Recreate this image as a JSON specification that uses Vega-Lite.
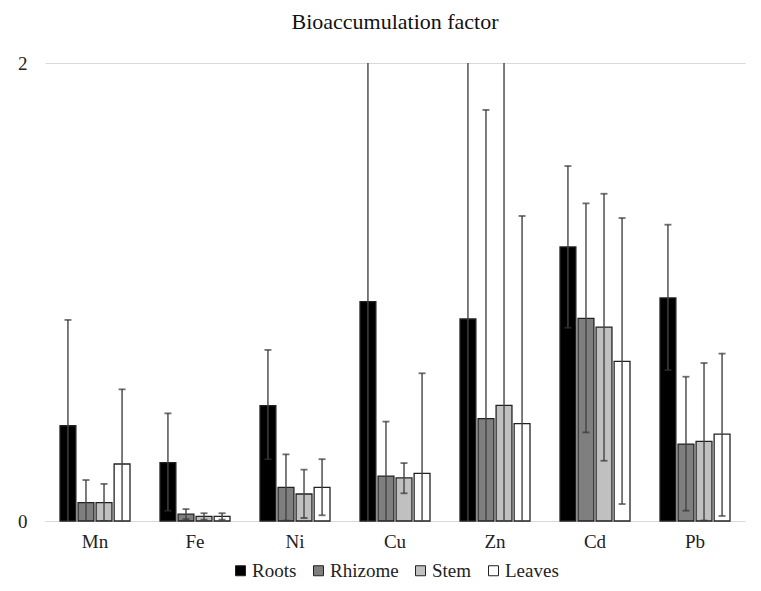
{
  "$schema": "https://vega.github.io/schema/vega-lite/v6.json",
  "autosize": {"type": "none"},
  "width": 700,
  "height": 458,
  "padding": {"left": 45, "top": 63, "right": 16, "bottom": 70},
  "background": "white",
  "title": {"text": "Bioaccumulation factor", "font": "Liberation Serif, Times New Roman, serif", "fontSize": 22, "fontWeight": "normal", "color": "#111111", "anchor": "middle", "frame": "group", "offset": 20},
  "data": {"values": [
    {"metal": "Mn", "organ": "Roots", "v": 0.416, "lo": -0.04, "hi": 0.878},
    {"metal": "Mn", "organ": "Rhizome", "v": 0.08, "lo": -0.02, "hi": 0.179},
    {"metal": "Mn", "organ": "Stem", "v": 0.08, "lo": 0.0, "hi": 0.162},
    {"metal": "Mn", "organ": "Leaves", "v": 0.249, "lo": -0.08, "hi": 0.575},
    {"metal": "Fe", "organ": "Roots", "v": 0.255, "lo": 0.045, "hi": 0.47},
    {"metal": "Fe", "organ": "Rhizome", "v": 0.03, "lo": 0.008, "hi": 0.052},
    {"metal": "Fe", "organ": "Stem", "v": 0.02, "lo": 0.006, "hi": 0.034},
    {"metal": "Fe", "organ": "Leaves", "v": 0.02, "lo": 0.006, "hi": 0.034},
    {"metal": "Ni", "organ": "Roots", "v": 0.504, "lo": 0.27, "hi": 0.747},
    {"metal": "Ni", "organ": "Rhizome", "v": 0.147, "lo": 0.002, "hi": 0.291},
    {"metal": "Ni", "organ": "Stem", "v": 0.118, "lo": 0.013, "hi": 0.224},
    {"metal": "Ni", "organ": "Leaves", "v": 0.147, "lo": 0.025, "hi": 0.27},
    {"metal": "Cu", "organ": "Roots", "v": 0.958, "lo": -0.3, "hi": 2.2},
    {"metal": "Cu", "organ": "Rhizome", "v": 0.196, "lo": -0.04, "hi": 0.434},
    {"metal": "Cu", "organ": "Stem", "v": 0.188, "lo": 0.121, "hi": 0.253},
    {"metal": "Cu", "organ": "Leaves", "v": 0.208, "lo": -0.23, "hi": 0.645},
    {"metal": "Zn", "organ": "Roots", "v": 0.882, "lo": -0.4, "hi": 2.2},
    {"metal": "Zn", "organ": "Rhizome", "v": 0.447, "lo": -0.9, "hi": 1.795},
    {"metal": "Zn", "organ": "Stem", "v": 0.505, "lo": -1.1, "hi": 2.2},
    {"metal": "Zn", "organ": "Leaves", "v": 0.425, "lo": -0.48, "hi": 1.332},
    {"metal": "Cd", "organ": "Roots", "v": 1.197, "lo": 0.844, "hi": 1.55},
    {"metal": "Cd", "organ": "Rhizome", "v": 0.885, "lo": 0.387, "hi": 1.387},
    {"metal": "Cd", "organ": "Stem", "v": 0.847, "lo": 0.263, "hi": 1.429},
    {"metal": "Cd", "organ": "Leaves", "v": 0.697, "lo": 0.074, "hi": 1.323},
    {"metal": "Pb", "organ": "Roots", "v": 0.974, "lo": 0.659, "hi": 1.294},
    {"metal": "Pb", "organ": "Rhizome", "v": 0.336, "lo": 0.045, "hi": 0.63},
    {"metal": "Pb", "organ": "Stem", "v": 0.348, "lo": 0.002, "hi": 0.69},
    {"metal": "Pb", "organ": "Leaves", "v": 0.379, "lo": 0.022, "hi": 0.731}
  ]},
  "encoding": {
    "x": {"field": "metal", "type": "nominal", "sort": ["Mn", "Fe", "Ni", "Cu", "Zn", "Cd", "Pb"],
          "scale": {"paddingInner": 0.3, "paddingOuter": 0.15},
          "axis": {"title": null, "labelAngle": 0, "ticks": false, "domain": false, "labelFont": "Liberation Serif, Times New Roman, serif", "labelFontSize": 19, "labelColor": "#222222", "labelPadding": 11}},
    "xOffset": {"field": "organ", "type": "nominal", "sort": ["Roots", "Rhizome", "Stem", "Leaves"],
                "scale": {"paddingInner": 0.12, "paddingOuter": 0}}
  },
  "layer": [
    {
      "mark": {"type": "bar", "stroke": "#222222", "strokeWidth": 1.3},
      "encoding": {
        "y": {"field": "v", "type": "quantitative", "scale": {"domain": [0, 2], "nice": false},
              "axis": {"title": null, "values": [0, 1, 2], "grid": true, "gridColor": "#d9d9d9", "gridWidth": 1.2, "domain": false, "ticks": false, "labelFont": "Liberation Serif, Times New Roman, serif", "labelFontSize": 19, "labelColor": "#222222", "labelPadding": 18, "format": "d"}},
        "fill": {"field": "organ", "type": "nominal", "sort": ["Roots", "Rhizome", "Stem", "Leaves"],
                  "scale": {"domain": ["Roots", "Rhizome", "Stem", "Leaves"], "range": ["#000000", "#7f7f7f", "#c0c0c0", "#ffffff"]},
                  "legend": {"title": null, "orient": "bottom", "direction": "horizontal", "symbolType": "square", "symbolSize": 100, "symbolStrokeColor": "#222222", "symbolStrokeWidth": 1, "labelFont": "Liberation Serif, Times New Roman, serif", "labelFontSize": 19, "labelColor": "#222222", "columnPadding": 12, "labelOffset": 2, "offset": 10}}
      }
    },
    {
      "mark": {"type": "rule", "color": "#444444", "strokeWidth": 1.4, "clip": true},
      "encoding": {
        "y": {"field": "lo", "type": "quantitative"},
        "y2": {"field": "hi"}
      }
    },
    {
      "mark": {"type": "tick", "color": "#333333", "size": 7, "thickness": 1.8, "clip": true},
      "encoding": {"y": {"field": "hi", "type": "quantitative"}}
    },
    {
      "mark": {"type": "tick", "color": "#333333", "size": 7, "thickness": 1.8, "clip": true},
      "encoding": {"y": {"field": "lo", "type": "quantitative"}}
    }
  ],
  "config": {
    "font": "Liberation Serif, Times New Roman, serif",
    "view": {"stroke": null},
    "legend": {"labelFont": "Liberation Serif, Times New Roman, serif", "layout": {"bottom": {"anchor": "middle"}}}
  }
}
